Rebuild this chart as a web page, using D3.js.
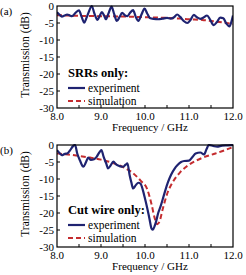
<!DOCTYPE html>
<html>
<head>
<meta charset="utf-8">
<script src="https://cdn.jsdelivr.net/npm/d3@7"></script>
<style>
  body { margin: 0; background: #fff; }
  svg, text { font-family: "Liberation Serif", "Times New Roman", Times, "DejaVu Serif", serif; }
</style>
</head>
<body>
<svg id="chart" width="246" height="275"></svg>
<script>
// values: [frequency GHz, transmission dB]
const xTicks = [8.0, 9.0, 10.0, 11.0, 12.0]
const yTicks = [0, -5, -10, -15, -20, -25, -30]

const srrExperiment = [
    [8.00, -1.8], [8.06, -2.6], [8.11, -3.1], [8.17, -2.8], [8.23, -2.5], [8.29, -2.8], [8.34, -3.0],
    [8.42, -2.0], [8.50, -1.3], [8.56, -3.2], [8.62, -4.9], [8.67, -3.5], [8.72, -1.8], [8.79, 0.0],
    [8.85, -2.2], [8.92, -4.1], [8.97, -2.9], [9.02, -1.8], [9.07, -2.8], [9.11, -3.9], [9.17, -2.2],
    [9.24, -0.2], [9.30, -2.4], [9.36, -4.4], [9.42, -3.3], [9.48, -2.0], [9.55, -2.8], [9.60, -3.0],
    [9.66, -2.0], [9.73, -1.2], [9.79, -3.2], [9.85, -4.4], [9.92, -2.5], [9.99, -0.8], [10.05, -2.2],
    [10.11, -3.5], [10.20, -3.8], [10.30, -3.9], [10.40, -3.7], [10.50, -3.5], [10.58, -3.7],
    [10.66, -3.3], [10.73, -2.5], [10.80, -3.2], [10.88, -4.4], [10.96, -5.0], [11.03, -4.2],
    [11.11, -2.6], [11.18, -3.3], [11.26, -3.8], [11.33, -3.4], [11.41, -2.8], [11.48, -4.0],
    [11.56, -5.6], [11.63, -4.8], [11.71, -3.4], [11.78, -3.6], [11.85, -5.2], [11.92, -6.0],
    [11.96, -4.8], [12.00, -2.8]
]
const srrSimulation = [
    [8.0, -2.7], [8.5, -2.9], [9.0, -3.0], [9.5, -3.1], [10.0, -3.3], [10.5, -3.5], [10.8, -3.7],
    [11.0, -3.9], [11.3, -4.1], [11.5, -4.4], [11.8, -4.9], [12.0, -5.3]
]

const wireExperiment = [
    [8.00, -1.5], [8.06, -2.4], [8.11, -3.0], [8.18, -2.6], [8.23, -2.5], [8.30, -1.5], [8.36, -0.4],
    [8.41, 0.0], [8.46, -2.5], [8.52, -4.5], [8.60, -6.4], [8.66, -5.0], [8.71, -3.7], [8.77, -4.4],
    [8.84, -4.2], [8.90, -3.5], [8.96, -2.2], [9.01, -1.5], [9.06, -3.5], [9.12, -5.5], [9.16, -6.9],
    [9.22, -6.0], [9.28, -4.9], [9.35, -5.8], [9.42, -6.2], [9.50, -6.4], [9.56, -5.8], [9.60, -5.4],
    [9.65, -8.8], [9.69, -11.0], [9.73, -12.8], [9.79, -11.8], [9.85, -11.1], [9.90, -11.4],
    [9.95, -13.2], [9.99, -15.2], [10.05, -18.5], [10.10, -21.6], [10.15, -24.6], [10.18, -24.9],
    [10.22, -23.8], [10.25, -22.6], [10.30, -20.0], [10.35, -18.2], [10.44, -14.3], [10.52, -11.0],
    [10.59, -8.8], [10.67, -7.0], [10.74, -5.9], [10.82, -5.0], [10.89, -4.7], [11.00, -4.6],
    [11.08, -3.5], [11.15, -2.5], [11.26, -2.2], [11.34, -2.8], [11.40, -1.2], [11.45, 0.0],
    [11.55, -0.3], [11.64, -0.5], [11.75, -0.2], [11.88, -0.1], [12.00, 0.0]
]
const wireSimulation = [
    [8.0, -2.5], [8.25, -2.8], [8.5, -3.2], [8.75, -3.7], [9.0, -4.3], [9.25, -5.2], [9.5, -6.5],
    [9.7, -8.0], [9.9, -10.5], [10.05, -13.0], [10.15, -17.5], [10.22, -21.5], [10.28, -23.3],
    [10.33, -22.5], [10.40, -19.0], [10.50, -14.5], [10.65, -10.5], [10.80, -8.0], [11.0, -5.8],
    [11.3, -3.8], [11.6, -2.5], [11.8, -1.6], [12.0, -0.6]
]

const panels = [
    {tag: "(a)", title: "SRRs only:", top: 6, exp: srrExperiment, sim: srrSimulation, legendY: 77},
    {tag: "(b)", title: "Cut wire only:", top: 145, exp: wireExperiment, sim: wireSimulation, legendY: 214}
]

const font = "Liberation Serif, Times New Roman, Times, serif"
const svg = d3.select("#chart").attr("font-family", font)
const left = 57, right = 233, plotH = 102
const navy = "#1f2371", red = "#c42c2f"

const x = d3.scaleLinear().domain([8, 12]).range([left, right])

panels.forEach(p => {
    const y = d3.scaleLinear().domain([-30, 0]).range([p.top + plotH, p.top])
    const g = svg.append("g")

    // small inward ticks
    g.selectAll(".xt").data(d3.range(8.5, 12, 0.5)).join("line")
        .attr("x1", d => x(d)).attr("x2", d => x(d))
        .attr("y1", y(-30)).attr("y2", y(-30) - 3)
        .attr("stroke", "#000").attr("stroke-width", 1)
    g.selectAll(".yt").data(yTicks.slice(1, -1)).join("line")
        .attr("x1", left).attr("x2", left + 3)
        .attr("y1", d => y(d)).attr("y2", d => y(d))
        .attr("stroke", "#000").attr("stroke-width", 1)

    g.selectAll(".yl").data(yTicks).join("text")
        .attr("x", left - 3).attr("y", d => y(d) + 4)
        .attr("text-anchor", "end").attr("font-size", 11)
        .text(d => d === 0 ? "0" : "-" + Math.abs(d))
    g.selectAll(".xl").data(xTicks).join("text")
        .attr("x", d => x(d)).attr("y", y(-30) + 12)
        .attr("text-anchor", "middle").attr("font-size", 11)
        .text(d => d.toFixed(1))

    g.append("text").attr("x", (left + right) / 2 + 5).attr("y", y(-30) + 23)
        .attr("text-anchor", "middle").attr("font-size", 11).text("Frequency / GHz")
    g.append("text")
        .attr("transform", `translate(29, ${p.top + plotH / 2 - 2}) rotate(-90)`)
        .attr("text-anchor", "middle").attr("font-size", 11.5).text("Transmission (dB)")
    g.append("text").attr("x", 0).attr("y", p.top + 9).attr("font-size", 11).text(p.tag)

    const line = d3.line().x(d => x(d[0])).y(d => y(d[1])).curve(d3.curveMonotoneX)

    g.append("defs").append("clipPath").attr("id", "clip" + p.top)
        .append("rect").attr("x", left).attr("y", p.top - 1).attr("width", right - left).attr("height", plotH + 1)

    const plot = g.append("g").attr("clip-path", `url(#clip${p.top})`)
    plot.append("path").datum(p.sim).attr("d", line)
        .attr("fill", "none").attr("stroke", red).attr("stroke-width", 2).attr("stroke-dasharray", "5,3")
    plot.append("path").datum(p.exp).attr("d", line)
        .attr("fill", "none").attr("stroke", navy).attr("stroke-width", 2.2)

    g.append("rect").attr("x", left).attr("y", p.top).attr("width", right - left).attr("height", plotH)
        .attr("fill", "none").attr("stroke", "#000").attr("stroke-width", 1.2)

    // legend
    const lx = left + 11
    g.append("text").attr("x", lx).attr("y", p.legendY).attr("font-size", 12.5)
        .attr("font-weight", "bold").text(p.title)
    g.append("line").attr("x1", lx).attr("x2", lx + 17).attr("y1", p.legendY + 11).attr("y2", p.legendY + 11)
        .attr("stroke", navy).attr("stroke-width", 2.2)
    g.append("text").attr("x", lx + 20).attr("y", p.legendY + 15).attr("font-size", 11.5).text("experiment")
    g.append("line").attr("x1", lx).attr("x2", lx + 17).attr("y1", p.legendY + 24).attr("y2", p.legendY + 24)
        .attr("stroke", red).attr("stroke-width", 2).attr("stroke-dasharray", "5,3")
    g.append("text").attr("x", lx + 20).attr("y", p.legendY + 28).attr("font-size", 11.5).text("simulation")
})
</script>
</body>
</html>
